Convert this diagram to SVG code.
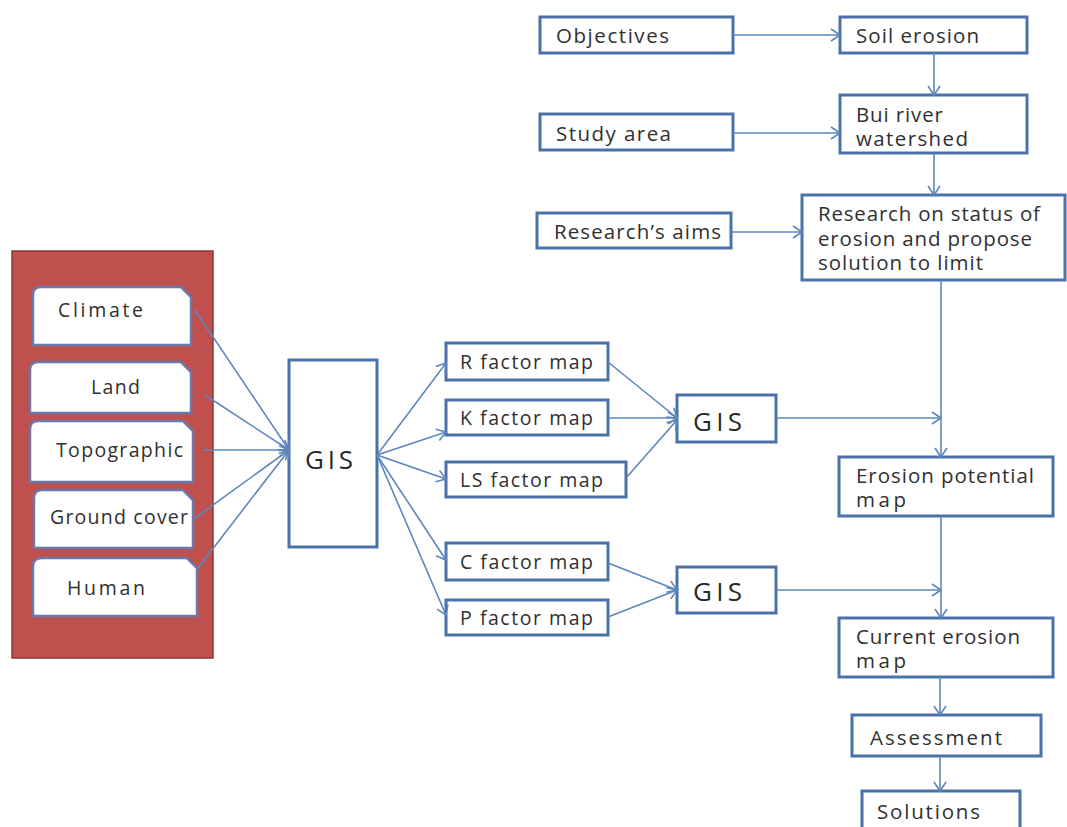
<svg xmlns="http://www.w3.org/2000/svg" width="1067" height="827" viewBox="0 0 1067 827">
<style>
.box{fill:#fff;stroke:#4a72a8;stroke-width:3}
.snip{fill:#fff;stroke:#6a78aa;stroke-width:2.5}
.t{font-family:"Open Sans","Liberation Sans",sans-serif;font-size:20.5px;fill:#303030}
.ts{font-family:"Open Sans","Liberation Sans",sans-serif;font-size:19.5px;fill:#303030}
.tg{font-family:"Open Sans","Liberation Sans",sans-serif;font-size:26px;fill:#2a2a2a}
.c{stroke:#5b87bd;stroke-width:1.6;fill:none;marker-end:url(#ah)}
</style>
<defs>
<marker id="ah" markerUnits="userSpaceOnUse" markerWidth="14" markerHeight="14" refX="11" refY="7" orient="auto">
<path d="M2,1 L11,7 L2,13" fill="none" stroke="#5b87bd" stroke-width="1.6"/>
</marker>
</defs>
<rect width="1067" height="827" fill="#fff"/>
<g id="panel">
<rect x="12" y="251" width="201" height="407" fill="#c0504d" stroke="#8c3835" stroke-width="1.5"/>
</g>
<g id="climate"><path class="snip" d="M41,287 H181 L191,297 V345 H33 V295 Q33,287 41,287 Z"/><text class="ts" x="58" y="317" textLength="85" lengthAdjust="spacing">Climate</text></g>
<g id="land"><path class="snip" d="M38,362 H181 L191,372 V413 H30 V370 Q30,362 38,362 Z"/><text class="ts" x="91" y="394" textLength="49" lengthAdjust="spacing">Land</text></g>
<g id="topographic"><path class="snip" d="M38,421 H183 L193,431 V482 H30 V429 Q30,421 38,421 Z"/><text class="ts" x="56" y="457" textLength="127" lengthAdjust="spacing">Topographic</text></g>
<g id="groundcover"><path class="snip" d="M42,490 H183 L193,500 V548 H34 V498 Q34,490 42,490 Z"/><text class="ts" x="50" y="524" textLength="138" lengthAdjust="spacing">Ground cover</text></g>
<g id="human"><path class="snip" d="M42,558 H187 L197,568 V616 H33 V566 Q33,558 42,558 Z"/><text class="ts" x="67" y="595" textLength="78" lengthAdjust="spacing">Human</text></g>

<g id="gis1"><rect class="box" x="289" y="360" width="88" height="187"/><text class="tg" x="305" y="469" textLength="48" lengthAdjust="spacing">GIS</text></g>
<g id="rmap"><rect class="box" x="446" y="343" width="162" height="37"/><text class="ts" x="460" y="369" textLength="133" lengthAdjust="spacing">R factor map</text></g>
<g id="kmap"><rect class="box" x="446" y="400" width="162" height="35"/><text class="ts" x="460" y="425" textLength="133" lengthAdjust="spacing">K factor map</text></g>
<g id="lsmap"><rect class="box" x="446" y="462" width="180" height="35"/><text class="ts" x="460" y="487" textLength="143" lengthAdjust="spacing">LS factor map</text></g>
<g id="cmap"><rect class="box" x="446" y="543" width="162" height="37"/><text class="ts" x="460" y="569" textLength="133" lengthAdjust="spacing">C factor map</text></g>
<g id="pmap"><rect class="box" x="446" y="600" width="162" height="35"/><text class="ts" x="460" y="625" textLength="133" lengthAdjust="spacing">P factor map</text></g>
<g id="gis2"><rect class="box" x="677" y="395" width="99" height="47"/><text class="tg" x="693" y="431" textLength="49" lengthAdjust="spacing">GIS</text></g>
<g id="gis3"><rect class="box" x="677" y="567" width="99" height="46"/><text class="tg" x="693" y="601" textLength="49" lengthAdjust="spacing">GIS</text></g>

<g id="objectives"><rect class="box" x="540" y="17" width="193" height="36"/><text class="t" x="556" y="43" textLength="113" lengthAdjust="spacing">Objectives</text></g>
<g id="soilerosion"><rect class="box" x="840" y="17" width="187" height="36"/><text class="t" x="856" y="43" textLength="123" lengthAdjust="spacing">Soil erosion</text></g>
<g id="studyarea"><rect class="box" x="540" y="114" width="193" height="36"/><text class="t" x="556" y="141" textLength="115" lengthAdjust="spacing">Study area</text></g>
<g id="bui"><rect class="box" x="840" y="95" width="187" height="58"/><text class="t" x="856" y="122" textLength="87" lengthAdjust="spacing">Bui river</text><text class="t" x="856" y="146" textLength="112" lengthAdjust="spacing">watershed</text></g>
<g id="aims"><rect class="box" x="537" y="213" width="194" height="35"/><text class="t" x="554" y="239" textLength="167" lengthAdjust="spacing">Research’s aims</text></g>
<g id="research"><rect class="box" x="802" y="195" width="263" height="85"/><text class="t" x="818" y="221" textLength="222" lengthAdjust="spacing">Research on status of</text><text class="t" x="818" y="246" textLength="214" lengthAdjust="spacing">erosion and propose</text><text class="t" x="818" y="270" textLength="165" lengthAdjust="spacing">solution to limit</text></g>
<g id="potential"><rect class="box" x="839" y="457" width="214" height="59"/><text class="t" x="856" y="483" textLength="178" lengthAdjust="spacing">Erosion potential</text><text class="t" x="856" y="507" textLength="50" lengthAdjust="spacing">map</text></g>
<g id="current"><rect class="box" x="839" y="618" width="214" height="59"/><text class="t" x="856" y="644" textLength="164" lengthAdjust="spacing">Current erosion</text><text class="t" x="856" y="668" textLength="50" lengthAdjust="spacing">map</text></g>
<g id="assessment"><rect class="box" x="852" y="715" width="189" height="41"/><text class="t" x="870" y="745" textLength="132" lengthAdjust="spacing">Assessment</text></g>
<g id="solutions"><rect class="box" x="862" y="791" width="158" height="45"/><text class="t" x="877" y="819" textLength="103" lengthAdjust="spacing">Solutions</text></g>

<g id="connectors">
<line class="c" x1="195" y1="310" x2="289" y2="450"/>
<line class="c" x1="205" y1="395" x2="289" y2="450"/>
<line class="c" x1="203" y1="450" x2="289" y2="450"/>
<line class="c" x1="195" y1="518" x2="289" y2="450"/>
<line class="c" x1="198" y1="568" x2="289" y2="450"/>
<line class="c" x1="377" y1="455" x2="446" y2="363"/>
<line class="c" x1="377" y1="455" x2="446" y2="432"/>
<line class="c" x1="377" y1="455" x2="446" y2="479"/>
<line class="c" x1="377" y1="455" x2="446" y2="560"/>
<line class="c" x1="377" y1="455" x2="446" y2="615"/>
<line class="c" x1="608" y1="362" x2="677" y2="418"/>
<line class="c" x1="608" y1="418" x2="677" y2="418"/>
<line class="c" x1="626" y1="478" x2="677" y2="420"/>
<line class="c" x1="608" y1="563" x2="677" y2="590"/>
<line class="c" x1="608" y1="617" x2="677" y2="590"/>
<line class="c" x1="733" y1="35" x2="840" y2="35"/>
<line class="c" x1="733" y1="133" x2="840" y2="133"/>
<line class="c" x1="731" y1="232" x2="802" y2="232"/>
<line class="c" x1="934" y1="53" x2="934" y2="95"/>
<line class="c" x1="934" y1="153" x2="934" y2="195"/>
<line class="c" x1="941" y1="280" x2="941" y2="457"/>
<line class="c" x1="776" y1="418" x2="941" y2="418"/>
<line class="c" x1="941" y1="516" x2="941" y2="618"/>
<line class="c" x1="776" y1="590" x2="941" y2="590"/>
<line class="c" x1="940" y1="677" x2="940" y2="715"/>
<line class="c" x1="940" y1="756" x2="940" y2="791"/>
</g>
</svg>
